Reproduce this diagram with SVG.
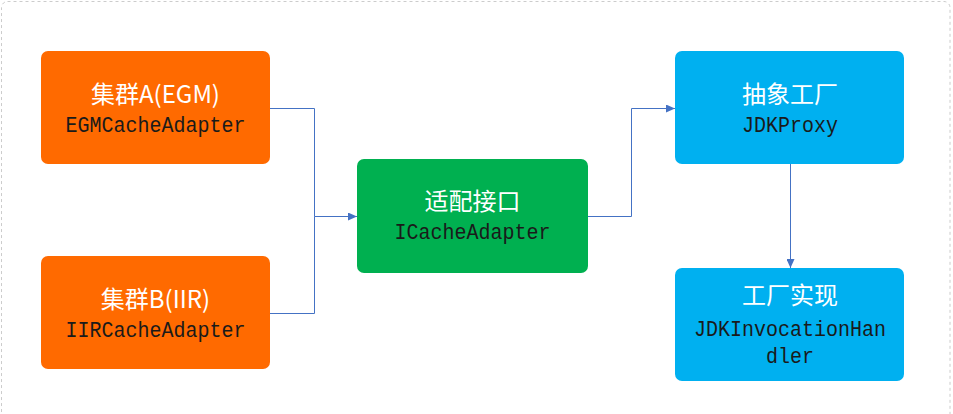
<svg xmlns="http://www.w3.org/2000/svg" width="953" height="414" viewBox="0 0 953 414">
<style>
.zh{font-family:"Noto Sans CJK SC","Microsoft YaHei",sans-serif;font-size:24px;fill:#ffffff;text-anchor:middle}
.mono{font-family:"Liberation Mono","Courier New",monospace;font-size:22px;fill:#1a1a1a;text-anchor:middle}
.edge{fill:none;stroke:#4472C4;stroke-width:1}
</style>
<defs>
<marker id="arr" markerWidth="9" markerHeight="8" refX="9" refY="4" orient="auto" markerUnits="userSpaceOnUse">
<path d="M0,0 L9,4 L0,8 Z" fill="#4472C4"/>
</marker>
</defs>
<rect x="1.5" y="1.5" width="948.5" height="440" rx="6" fill="#ffffff" stroke="#cccccc" stroke-dasharray="3,3"/>
<g id="connectors">
<path class="edge" d="M270,108.5 H314.5 V216.5 H357" marker-end="url(#arr)"/>
<path class="edge" d="M270,313.5 H314.5 V216.5"/>
<path class="edge" d="M588,216.5 H631.5 V108.5 H675" marker-end="url(#arr)"/>
<path class="edge" d="M790.5,164 V268" marker-end="url(#arr)"/>
</g>
<g id="nodeA">
<rect x="41" y="51" width="229" height="113" rx="7" fill="#FF6A00"/>
<text class="zh" x="155.5" y="103">集群A(EGM)</text>
<text class="mono" x="155.5" y="131.5" textLength="180" lengthAdjust="spacingAndGlyphs">EGMCacheAdapter</text>
</g>
<g id="nodeB">
<rect x="41" y="256" width="229" height="113" rx="7" fill="#FF6A00"/>
<text class="zh" x="155.5" y="308">集群B(IIR)</text>
<text class="mono" x="155.5" y="336.5" textLength="180" lengthAdjust="spacingAndGlyphs">IIRCacheAdapter</text>
</g>
<g id="nodeAdapter">
<rect x="357" y="159" width="231" height="114" rx="7" fill="#00B050"/>
<text class="zh" x="472.5" y="210">适配接口</text>
<text class="mono" x="472.5" y="239" textLength="156" lengthAdjust="spacingAndGlyphs">ICacheAdapter</text>
</g>
<g id="nodeFactory">
<rect x="675" y="51" width="229" height="113" rx="7" fill="#00B0F0"/>
<text class="zh" x="790" y="103">抽象工厂</text>
<text class="mono" x="790" y="132" textLength="96" lengthAdjust="spacingAndGlyphs">JDKProxy</text>
</g>
<g id="nodeImpl">
<rect x="675" y="268" width="229" height="113" rx="7" fill="#00B0F0"/>
<text class="zh" x="790" y="304">工厂实现</text>
<text class="mono" x="790" y="336" textLength="192" lengthAdjust="spacingAndGlyphs">JDKInvocationHan</text>
<text class="mono" x="790" y="363" textLength="48" lengthAdjust="spacingAndGlyphs">dler</text>
</g>
</svg>
